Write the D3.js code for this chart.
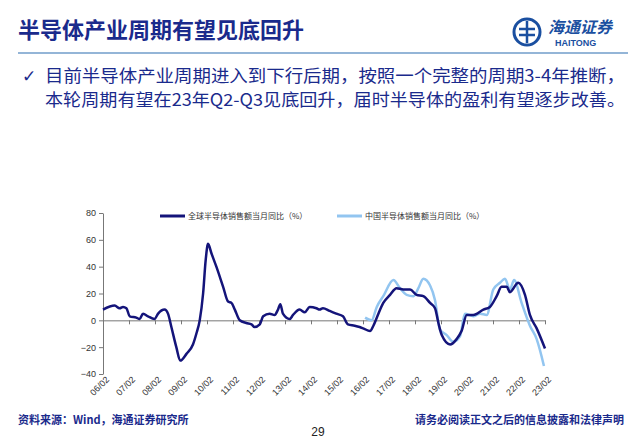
<!DOCTYPE html>
<html><head><meta charset="utf-8">
<script src="https://cdn.jsdelivr.net/npm/d3@7"></script>
<style>
body{margin:0;background:#fff;font-family:"Liberation Sans",Arial,sans-serif;}
.tick text{font-size:9px;fill:#333;}
</style></head>
<body><svg id="c" width="640" height="441"></svg>
<script>
// decimal year / value pairs
var globalDates = [2006.08,2006.53,2006.72,2006.85,2006.98,2007.11,2007.36,2007.49,2007.62,2007.81,2008.06,2008.20,2008.45,2008.58,2008.71,2008.90,2009.05,2009.29,2009.54,2009.67,2009.80,2009.93,2010.03,2010.12,2010.25,2010.44,2010.70,2010.89,2011.02,2011.15,2011.34,2011.59,2011.79,2011.91,2012.11,2012.24,2012.49,2012.68,2012.81,2012.90,2013.00,2013.26,2013.39,2013.64,2013.84,2014.03,2014.29,2014.41,2014.54,2014.80,2015.05,2015.31,2015.50,2015.76,2015.95,2016.09,2016.35,2016.48,2016.61,2016.86,2017.12,2017.37,2017.63,2017.89,2018.14,2018.40,2018.66,2018.85,2018.98,2019.11,2019.43,2019.68,2019.87,2020.07,2020.32,2020.71,2020.96,2021.22,2021.41,2021.61,2021.73,2022.05,2022.31,2022.50,2022.76,2023.08];
var globalValues = [8,11,9,10,9,3,2,1,5,3,1,5,8,5,-5,-20,-30,-25,-18,-10,0,20,45,57,50,40,25,14,13,8,0,-2,-3,-5,-3,3,5,4,8,12,5,1,4,8,6,10,9,8,9,7,5,3,-3,-4,-5,-6,-8,-4,2,13,19,24,23,23,19,18,13,9,-2,-11,-18,-14,-8,4,4,8,10,18,25,25,21,28,19,4,-6,-21];
var chinaDates = [2016.16,2016.41,2016.61,2016.86,2017.25,2017.50,2017.76,2018.02,2018.21,2018.40,2018.66,2018.85,2019.04,2019.30,2019.55,2019.81,2020.00,2020.32,2020.58,2020.84,2021.09,2021.35,2021.54,2021.73,2021.89,2022.18,2022.50,2022.76,2023.04];
var chinaValues = [2,0,10,18,30,24,19,18,24,31,26,15,-7,-11,-16,-12,5,3,5,4,23,28,31,23,30,13,-4,-14,-34];
var tickYears = d3.range(2006,2024);
var yTicks = [-40,-20,0,20,40,60,80];
var seriesNames = ["全球半导体销售额当月同比（%）","中国半导体销售额当月同比（%）"];
var seriesColors = ["#14147a","#92c5f0"];

var svg = d3.select("#c");
var navy = "#1a2a8c";

// header
svg.append("text").attr("x",18).attr("y",38).attr("font-size",22).attr("font-weight","bold")
  .attr("fill",navy).attr("font-family","Noto Sans CJK SC").text("半导体产业周期有望见底回升");
svg.append("line").attr("x1",18).attr("x2",628).attr("y1",53).attr("y2",53).attr("stroke","#2a6db0").attr("stroke-width",1.2);
// logo
var lg = svg.append("g").attr("transform","translate(527,32)");
lg.append("circle").attr("r",13).attr("fill","none").attr("stroke","#1a4fa0").attr("stroke-width",3);
lg.append("path").attr("d","M-8,-3 L8,-3 M-8,3 L8,3 M0,-11 L0,11").attr("stroke","#1a4fa0").attr("stroke-width",2.5);
svg.append("text").attr("x",548).attr("y",33).attr("font-size",16).attr("font-style","italic").attr("font-weight","bold")
  .attr("fill","#1a4fa0").attr("font-family","Noto Sans CJK SC").text("海通证券");
svg.append("text").attr("x",555).attr("y",46).attr("font-size",9).attr("font-weight","bold")
  .attr("fill","#1a4fa0").text("HAITONG");

// bullet
svg.append("text").attr("x",22).attr("y",82).attr("font-size",17).attr("fill",navy).text("✓");
[["目前半导体产业周期进入到下行后期，按照一个完整的周期3-4年推断，",82],["本轮周期有望在23年Q2-Q3见底回升，届时半导体的盈利有望逐步改善。",106]].forEach(function(t){
  svg.append("text").attr("x",45).attr("y",t[1]).attr("font-size",17).attr("fill",navy)
    .attr("font-family","Noto Sans CJK SC").attr("textLength",580).attr("lengthAdjust","spacingAndGlyphs").text(t[0]);
});

// chart
var x = d3.scaleLinear().domain([2006.08,2023.08]).range([103,545]);
var y = d3.scaleLinear().domain([-40,80]).range([374,213]);

svg.append("g").attr("transform","translate(103,0)")
  .call(d3.axisLeft(y).tickValues(yTicks).tickSize(4).tickSizeOuter(0))
  .call(function(g){g.select(".domain").attr("stroke","#777");g.selectAll("line").attr("stroke","#777");g.selectAll("text").attr("fill","#555");});

var xa = svg.append("g").attr("transform","translate(0,"+y(0)+")")
  .call(d3.axisBottom(x).tickValues(tickYears.map(function(d){return d+0.08;})).tickSize(4).tickSizeOuter(0)
    .tickFormat(function(d){var yr=Math.round(d-0.08)%100;return (yr<10?"0":"")+yr+"/02";}));
xa.select(".domain").attr("stroke","#777");
xa.selectAll("line").attr("stroke","#777");
xa.selectAll("text").attr("fill","#555")
  .attr("transform","translate(4,"+(y(-40)-y(0)+4)+") rotate(-45)").attr("text-anchor","end").attr("dy","0.35em").attr("y",0).attr("x",0);

var line = d3.line().x(function(d){return x(d[0]);}).y(function(d){return y(d[1]);}).curve(d3.curveMonotoneX);
svg.append("path").datum(d3.zip(chinaDates,chinaValues)).attr("d",line)
  .attr("fill","none").attr("stroke",seriesColors[1]).attr("stroke-width",2.5);
svg.append("path").datum(d3.zip(globalDates,globalValues)).attr("d",line)
  .attr("fill","none").attr("stroke",seriesColors[0]).attr("stroke-width",2.5);

// legend
[[160,0],[337,1]].forEach(function(l){
  svg.append("line").attr("x1",l[0]).attr("x2",l[0]+25).attr("y1",216).attr("y2",216)
    .attr("stroke",seriesColors[l[1]]).attr("stroke-width",3);
  svg.append("text").attr("x",l[0]+28).attr("y",219).attr("font-size",8).attr("fill","#333")
    .attr("font-family","Noto Sans CJK SC").text(seriesNames[l[1]]);
});

// footer
svg.append("text").attr("x",18).attr("y",424).attr("font-size",11).attr("font-weight","bold").attr("fill",navy)
  .attr("font-family","Noto Sans CJK SC").text("资料来源：Wind，海通证券研究所");
svg.append("text").attr("x",318).attr("y",436).attr("font-size",12).attr("text-anchor","middle").attr("fill","#222").text("29");
svg.append("text").attr("x",624).attr("y",424).attr("font-size",11).attr("font-weight","bold").attr("text-anchor","end")
  .attr("fill",navy).attr("font-family","Noto Sans CJK SC").text("请务必阅读正文之后的信息披露和法律声明");
</script></body></html>
